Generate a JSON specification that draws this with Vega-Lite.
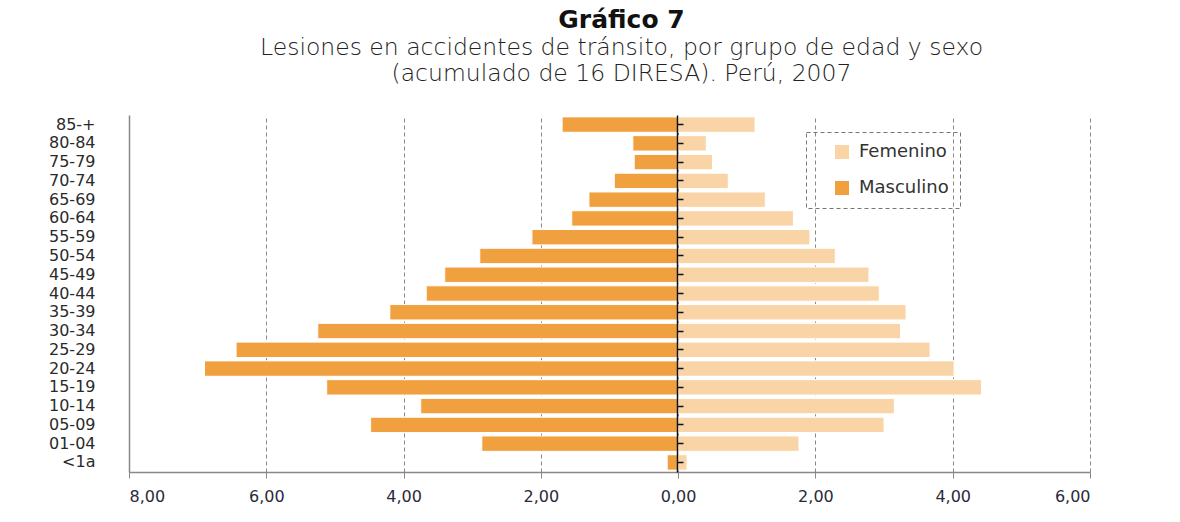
{
  "$schema": "https://vega.github.io/schema/vega-lite/v6.json",
  "width": 961,
  "height": 357,
  "autosize": "none",
  "padding": {"left": 129, "top": 115, "right": 90, "bottom": 50},
  "background": "white",
  "title": {
    "text": "Gráfico 7",
    "subtitle": ["Lesiones en accidentes de tránsito, por grupo de edad y sexo", "(acumulado de 16 DIRESA). Perú, 2007"],
    "anchor": "middle",
    "dx": 12,
    "offset": 30,
    "font": "DejaVu Sans",
    "fontSize": 25,
    "fontWeight": "bold",
    "color": "#111",
    "subtitleFont": "DejaVu Sans",
    "subtitleFontSize": 23.5,
    "subtitleFontWeight": 300,
    "subtitleColor": "#222",
    "subtitleLineHeight": 26,
    "subtitlePadding": 3
  },
  "data": {
    "values": [
      {"edad": "85-+", "sexo": "Masculino", "valor": -1.69},
      {"edad": "80-84", "sexo": "Masculino", "valor": -0.66},
      {"edad": "75-79", "sexo": "Masculino", "valor": -0.64},
      {"edad": "70-74", "sexo": "Masculino", "valor": -0.93},
      {"edad": "65-69", "sexo": "Masculino", "valor": -1.30},
      {"edad": "60-64", "sexo": "Masculino", "valor": -1.55},
      {"edad": "55-59", "sexo": "Masculino", "valor": -2.13},
      {"edad": "50-54", "sexo": "Masculino", "valor": -2.89},
      {"edad": "45-49", "sexo": "Masculino", "valor": -3.40},
      {"edad": "40-44", "sexo": "Masculino", "valor": -3.67},
      {"edad": "35-39", "sexo": "Masculino", "valor": -4.20},
      {"edad": "30-34", "sexo": "Masculino", "valor": -5.25},
      {"edad": "25-29", "sexo": "Masculino", "valor": -6.44},
      {"edad": "20-24", "sexo": "Masculino", "valor": -6.90},
      {"edad": "15-19", "sexo": "Masculino", "valor": -5.12},
      {"edad": "10-14", "sexo": "Masculino", "valor": -3.75},
      {"edad": "05-09", "sexo": "Masculino", "valor": -4.48},
      {"edad": "01-04", "sexo": "Masculino", "valor": -2.86},
      {"edad": "<1a", "sexo": "Masculino", "valor": -0.16},
      {"edad": "85-+", "sexo": "Femenino", "valor": 1.12},
      {"edad": "80-84", "sexo": "Femenino", "valor": 0.41},
      {"edad": "75-79", "sexo": "Femenino", "valor": 0.50},
      {"edad": "70-74", "sexo": "Femenino", "valor": 0.73},
      {"edad": "65-69", "sexo": "Femenino", "valor": 1.27},
      {"edad": "60-64", "sexo": "Femenino", "valor": 1.68},
      {"edad": "55-59", "sexo": "Femenino", "valor": 1.92},
      {"edad": "50-54", "sexo": "Femenino", "valor": 2.29},
      {"edad": "45-49", "sexo": "Femenino", "valor": 2.78},
      {"edad": "40-44", "sexo": "Femenino", "valor": 2.93},
      {"edad": "35-39", "sexo": "Femenino", "valor": 3.32},
      {"edad": "30-34", "sexo": "Femenino", "valor": 3.24},
      {"edad": "25-29", "sexo": "Femenino", "valor": 3.67},
      {"edad": "20-24", "sexo": "Femenino", "valor": 4.02},
      {"edad": "15-19", "sexo": "Femenino", "valor": 4.42},
      {"edad": "10-14", "sexo": "Femenino", "valor": 3.15},
      {"edad": "05-09", "sexo": "Femenino", "valor": 3.00},
      {"edad": "01-04", "sexo": "Femenino", "valor": 1.76},
      {"edad": "<1a", "sexo": "Femenino", "valor": 0.13}
    ]
  },
  "layer": [
    {
      "mark": {"type": "bar", "stroke": "white", "strokeWidth": 1},
      "encoding": {
        "y": {
          "field": "edad", "type": "nominal",
          "sort": ["85-+","80-84","75-79","70-74","65-69","60-64","55-59","50-54","45-49","40-44","35-39","30-34","25-29","20-24","15-19","10-14","05-09","01-04","<1a"],
          "scale": {"paddingInner": 0.18, "paddingOuter": 0.1},
          "axis": {
            "orient": "left", "title": null, "ticks": false,
            "domainColor": "#888", "domainWidth": 1.5,
            "labelPadding": 34, "labelFont": "DejaVu Sans", "labelFontSize": 16, "labelColor": "#2a2a2a"
          }
        },
        "x": {
          "field": "valor", "type": "quantitative",
          "scale": {"domain": [-8, 6], "nice": false},
          "axis": {
            "title": null, "values": [-8,-6,-4,-2,0,2,4,6],
            "labelExpr": "replace(format(abs(datum.value), '.2f'), '.', ',')",
            "grid": true, "gridDash": [4,3], "gridColor": "#888", "gridWidth": 1,
            "domainColor": "#888", "domainWidth": 1.5, "tickColor": "#888", "tickSize": 6,
            "labelPadding": 10, "labelFont": "DejaVu Sans", "labelFontSize": 16, "labelColor": "#2a2a3a"
          }
        },
        "color": {
          "field": "sexo", "type": "nominal",
          "scale": {"domain": ["Femenino", "Masculino"], "range": ["#F9D4A6", "#F1A040"]},
          "legend": {
            "title": null, "orient": "none", "legendX": 677, "legendY": 17,
            "strokeColor": "#777", "padding": 11,
            "symbolType": "square", "symbolSize": 196, "symbolOffset": 16, "symbolStrokeWidth": 0,
            "labelFont": "DejaVu Sans", "labelFontSize": 18, "labelColor": "#333", "labelOffset": 8,
            "rowPadding": 18
          }
        }
      }
    },
    {
      "mark": {"type": "tick", "opacity": 0},
      "encoding": {
        "y": {
          "field": "edad", "type": "nominal",
          "sort": ["85-+","80-84","75-79","70-74","65-69","60-64","55-59","50-54","45-49","40-44","35-39","30-34","25-29","20-24","15-19","10-14","05-09","01-04","<1a"],
          "axis": {
            "orient": "right", "offset": -413, "title": null, "labels": false, "zindex": 2,
            "domainColor": "#111", "domainWidth": 1.5, "tickColor": "#111", "tickSize": 6, "tickWidth": 1.5
          }
        },
        "x": {"field": "valor", "type": "quantitative"}
      }
    }
  ],
  "resolve": {"axis": {"y": "independent"}},
  "config": {
    "view": {"stroke": null},
    "legend": {"strokeDash": [4, 3]}
  }
}
